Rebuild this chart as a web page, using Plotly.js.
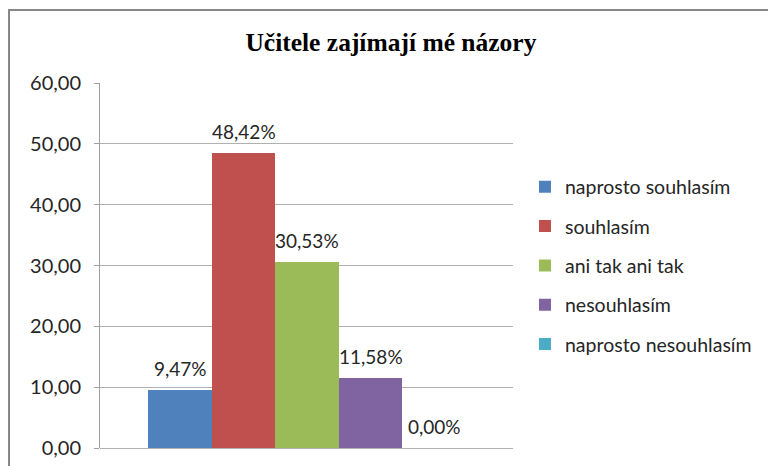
<!DOCTYPE html>
<html>
<head>
<meta charset="utf-8">
<script src="https://cdn.plot.ly/plotly-3.0.1.min.js"></script>
<style>
  html, body { margin: 0; padding: 0; background: #fff; }
  #wrap { position: relative; width: 768px; height: 466px; overflow: hidden; }
  #chart { position: absolute; left: 0; top: 0; width: 768px; height: 466px; }
  #frame { position: absolute; left: 8px; top: 9px; width: 780px; height: 480px;
           border-top: 2px solid #878787; border-left: 2px solid #878787; pointer-events: none; }
</style>
</head>
<body>
<div id="wrap">
  <div id="chart"></div>
  <div id="frame"></div>
</div>
<script>
const chartTitle = "Učitele zajímají mé názory";
const seriesNames = ["naprosto souhlasím", "souhlasím", "ani tak ani tak", "nesouhlasím", "naprosto nesouhlasím"];
const seriesValues = [9.47, 48.42, 30.53, 11.58, 0.00];
const seriesColors = ["#4F81BD", "#C0504D", "#9BBB59", "#8064A2", "#4BACC6"];
const yTicks = [0, 10, 20, 30, 40, 50, 60];

const labelFont = { family: "Lato, 'Open Sans', sans-serif", size: 19, color: "#262626" };
const tickFont = { family: "Lato, 'Open Sans', sans-serif", size: 20, color: "#262626" };

// each series is one bar placed side by side (Excel-style clustered single category)
const traces = seriesNames.map((name, i) => ({
  type: "bar",
  name: name,
  x: [name],
  y: [seriesValues[i]],
  width: 1,
  marker: { color: seriesColors[i], line: { width: 0 } },
  legendgroup: "g" + i,
  hoverinfo: "skip"
}));

const valueLabels = seriesNames.map((name, i) => ({
  xref: "x", yref: "y",
  x: name, y: seriesValues[i],
  text: seriesValues[i].toFixed(2).replace(".", ",") + "%",
  showarrow: false,
  xanchor: "center", yanchor: "bottom",
  yshift: 8,
  font: labelFont
}));

const layout = {
  width: 768,
  height: 466,
  separators: ", ",
  paper_bgcolor: "#ffffff",
  plot_bgcolor: "#ffffff",
  margin: { l: 100, r: 255, t: 83, b: 18, pad: 0, autoexpand: false },
  barmode: "overlay",
  bargap: 0,
  title: {
    text: chartTitle,
    font: { family: "Liberation Serif, Times New Roman, Times, serif", size: 25.5, color: "#000", weight: "bold" },
    x: 0.509, xanchor: "center", xref: "container",
    y: 0.909, yanchor: "middle", yref: "container"
  },
  xaxis: {
    type: "category",
    categoryorder: "array",
    categoryarray: seriesNames,
    range: [-1.26, 5.24],
    showticklabels: false,
    ticks: "",
    showgrid: false,
    showline: false,
    zeroline: false,
    fixedrange: true
  },
  yaxis: {
    range: [0, 60],
    tickvals: yTicks,
    tickformat: ".2f",
    ticks: "outside",
    ticklen: 5,
    tickcolor: "#a0a0a0",
    tickwidth: 1,
    ticklabelstandoff: 9,
    tickfont: tickFont,
    showgrid: true,
    gridcolor: "#b0b0b0",
    gridwidth: 1,
    showline: true,
    linecolor: "#a0a0a0",
    linewidth: 1,
    zeroline: true,
    zerolinecolor: "#b0b0b0",
    zerolinewidth: 1,
    fixedrange: true
  },
  annotations: valueLabels,
  showlegend: true,
  legend: {
    x: 1.029, xanchor: "left",
    y: 0.5, yanchor: "middle",
    traceorder: "grouped",
    tracegroupgap: 11,
    font: { family: "Lato, 'Open Sans', sans-serif", size: 19.5, color: "#262626" },
    bgcolor: "rgba(0,0,0,0)",
    borderwidth: 0
  }
};

Plotly.newPlot("chart", traces, layout, { staticPlot: true, displayModeBar: false });
</script>
</body>
</html>
